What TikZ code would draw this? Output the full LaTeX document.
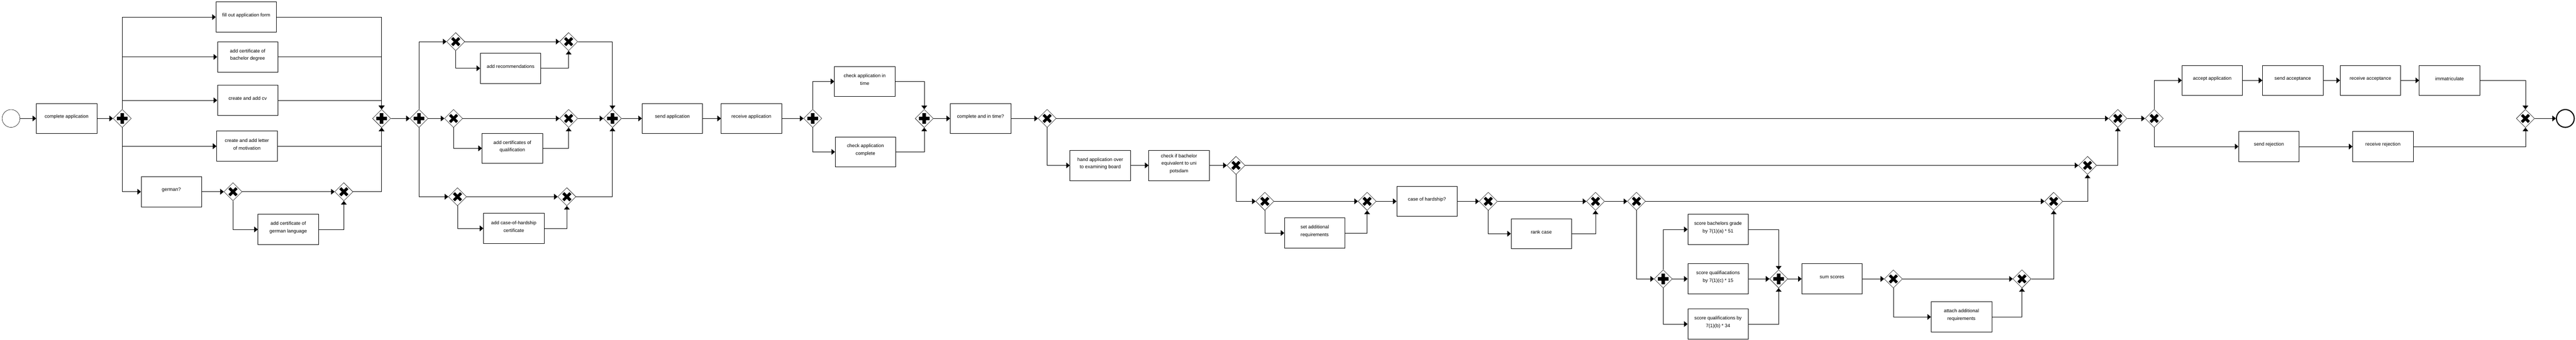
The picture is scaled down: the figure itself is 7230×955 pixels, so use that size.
\documentclass[tikz,border=0pt]{standalone}
\usepackage{fontspec}
\setmainfont{Liberation Sans}
\usepackage{tikz}
\usetikzlibrary{shapes.geometric, arrows.meta}

\begin{document}
\begin{tikzpicture}[x=1pt, y=-1pt,
        task/.style={
                rectangle,
                draw,
                line width=1pt,
                minimum width=170pt,
                minimum height=85pt,
                label={[tasktext]center:#1},
        },
        tasktext/.style={align=center, yshift=5pt, inner sep=0pt, font=\fontsize{13.5}{21}\selectfont},
        gateway/.style={diamond, draw, fill=white, line width=0.8pt, minimum width=51pt, minimum height=51pt, inner sep=0pt},
        xorgate/.style={gateway, path picture={
                \draw[black, line width=8pt] (path picture bounding box.center) +(-10pt,-10pt) -- +(10pt,10pt)
                        (path picture bounding box.center) +(-10pt,10pt) -- +(10pt,-10pt);}},
        andgate/.style={gateway, path picture={
                \fill[black] (path picture bounding box.center) +(-15pt,-5pt) rectangle +(15pt,5pt)
                        (path picture bounding box.center) +(-5pt,-15pt) rectangle +(5pt,15pt);}},
        startevent/.style={circle, draw, line width=0.8pt, minimum size=50pt, inner sep=0pt},
        endevent/.style={circle, draw, line width=3pt, minimum size=50pt, inner sep=0pt},
        flow/.style={line width=1pt, -{Triangle[length=10pt, width=16pt]}}]
            \useasboundingbox (0,0) rectangle (7230,955);

            \node[startevent] (start) at (31,333) {};
            \node[task={complete application}] (complete) at (187,333) {};
            \node[andgate] (fork1) at (343,333) {};
            \node[task={fill out application form}] (form) at (691,48) {};
            \node[task={add certificate of\\bachelor degree}] (bachelor) at (695,160) {};
            \node[task={create and add cv}] (cv) at (695,282) {};
            \node[task={create and add letter\\of motivation}] (letter) at (693,411) {};
            \node[task={german?}] (german) at (481,539) {};
            \node[xorgate] (germansplit) at (654,539) {};
            \node[task={add certificate of\\german language}] (language) at (809,645) {};
            \node[xorgate] (germanjoin) at (965,539) {};
            \node[andgate] (join1) at (1071,333) {};

            \node[andgate] (fork2) at (1176,333) {};
            \node[xorgate] (recsplit) at (1279,117) {};
            \node[task={add recommendations}] (recommend) at (1433,192) {};
            \node[xorgate] (recjoin) at (1596,117) {};
            \node[xorgate] (qualsplit) at (1273,333) {};
            \node[task={add certificates of\\qualification}] (qualify) at (1438,417) {};
            \node[xorgate] (qualjoin) at (1596,333) {};
            \node[xorgate] (hardsplit) at (1284,553) {};
            \node[task={add case-of-hardship\\certificate}] (hardship) at (1442,642) {};
            \node[xorgate] (hardjoin) at (1591,553) {};
            \node[andgate] (join2) at (1719,333) {};
            \node[task={send application}] (send) at (1887,333) {};
            \node[task={receive application}] (receive) at (2109,333) {};
            \node[andgate] (fork3) at (2281,333) {};
            \node[task={check application in\\time}] (intime) at (2427,229) {};
            \node[task={check application\\complete}] (iscomplete) at (2429,427) {};
            \node[andgate] (join3) at (2594,333) {};
            \node[task={complete and in time?}] (completetime) at (2752,333) {};
            \node[xorgate] (timesplit) at (2939,333) {};

            \node[task={hand application over\\to examining board}] (handover) at (3088,465) {};
            \node[task={check if bachelor\\equivalent to uni\\potsdam}] (equivalent) at (3309,465) {};
            \node[xorgate] (eqsplit) at (3469,465) {};
            \node[xorgate] (reqsplit) at (3550,566) {};
            \node[task={set additional\\requirements}] (setreq) at (3690,655) {};
            \node[xorgate] (reqjoin) at (3837,566) {};
            \node[task={case of hardship?}] (hardq) at (4005,566) {};
            \node[xorgate] (ranksplit) at (4177,566) {};
            \node[task={rank case}] (rank) at (4326,657) {};
            \node[xorgate] (rankjoin) at (4478,566) {};
            \node[xorgate] (scoresplit) at (4593,566) {};
            \node[andgate] (fork4) at (4668,784) {};
            \node[task={score bachelors grade\\by 7(1)(a) * 51}] (gradescore) at (4822,645) {};
            \node[task={score qualifiacations\\by 7(1)(c) * 15}] (cscore) at (4822,784) {};
            \node[task={score qualifications by\\7(1)(b) * 34}] (bscore) at (4822,911) {};
            \node[andgate] (join4) at (4992,784) {};
            \node[task={sum scores}] (sum) at (5142,784) {};
            \node[xorgate] (sumsplit) at (5314,784) {};
            \node[task={attach additional\\requirements}] (attach) at (5505,891) {};
            \node[xorgate] (sumjoin) at (5675,784) {};
            \node[xorgate] (scorejoin) at (5764,566) {};
            \node[xorgate] (eqjoin) at (5859,465) {};
            \node[xorgate] (timejoin) at (5944,333) {};
            \node[xorgate] (decide) at (6046,333) {};
            \node[task={accept application}] (accept) at (6209,226) {};
            \node[task={send acceptance}] (sendacc) at (6435,226) {};
            \node[task={receive acceptance}] (recacc) at (6653,226) {};
            \node[task={immatriculate}] (immat) at (6875,226) {};
            \node[task={send rejection}] (sendrej) at (6368,412) {};
            \node[task={receive rejection}] (recrej) at (6688,412) {};
            \node[xorgate] (endjoin) at (7088,333) {};
            \node[endevent] (end) at (7200,333) {};

            \draw[flow] (start) -- (complete);
            \draw[flow] (complete) -- (fork1);
            \draw[flow] (fork1.north) |- (form.west);
            \draw[flow] (fork1.north) |- (bachelor.west);
            \draw[flow] (fork1.north) |- (cv.west);
            \draw[flow] (fork1.south) |- (letter.west);
            \draw[flow] (fork1.south) |- (german.west);
            \draw[flow] (form.east) -| (join1.north);
            \draw[flow] (bachelor.east) -| (join1.north);
            \draw[flow] (cv.east) -| (join1.north);
            \draw[flow] (letter.east) -| (join1.south);
            \draw[flow] (german) -- (germansplit);
            \draw[flow] (germansplit) -- (germanjoin);
            \draw[flow] (germansplit.south) |- (language.west);
            \draw[flow] (language.east) -| (germanjoin.south);
            \draw[flow] (germanjoin.east) -| (join1.south);

            \draw[flow] (join1) -- (fork2);
            \draw[flow] (fork2.north) |- (recsplit.west);
            \draw[flow] (fork2) -- (qualsplit);
            \draw[flow] (fork2.south) |- (hardsplit.west);
            \draw[flow] (recsplit) -- (recjoin);
            \draw[flow] (recsplit.south) |- (recommend.west);
            \draw[flow] (recommend.east) -| (recjoin.south);
            \draw[flow] (qualsplit) -- (qualjoin);
            \draw[flow] (qualsplit.south) |- (qualify.west);
            \draw[flow] (qualify.east) -| (qualjoin.south);
            \draw[flow] (hardsplit) -- (hardjoin);
            \draw[flow] (hardsplit.south) |- (hardship.west);
            \draw[flow] (hardship.east) -| (hardjoin.south);
            \draw[flow] (recjoin.east) -| (join2.north);
            \draw[flow] (qualjoin) -- (join2);
            \draw[flow] (hardjoin.east) -| (join2.south);
            \draw[flow] (join2) -- (send);
            \draw[flow] (send) -- (receive);
            \draw[flow] (receive) -- (fork3);
            \draw[flow] (fork3.north) |- (intime.west);
            \draw[flow] (fork3.south) |- (iscomplete.west);
            \draw[flow] (intime.east) -| (join3.north);
            \draw[flow] (iscomplete.east) -| (join3.south);
            \draw[flow] (join3) -- (completetime);
            \draw[flow] (completetime) -- (timesplit);

            \draw[flow] (timesplit) -- (timejoin);
            \draw[flow] (timesplit.south) |- (handover.west);
            \draw[flow] (handover) -- (equivalent);
            \draw[flow] (equivalent) -- (eqsplit);
            \draw[flow] (eqsplit) -- (eqjoin);
            \draw[flow] (eqsplit.south) |- (reqsplit.west);
            \draw[flow] (reqsplit) -- (reqjoin);
            \draw[flow] (reqsplit.south) |- (setreq.west);
            \draw[flow] (setreq.east) -| (reqjoin.south);
            \draw[flow] (reqjoin) -- (hardq);
            \draw[flow] (hardq) -- (ranksplit);
            \draw[flow] (ranksplit) -- (rankjoin);
            \draw[flow] (ranksplit.south) |- (rank.west);
            \draw[flow] (rank.east) -| (rankjoin.south);
            \draw[flow] (rankjoin) -- (scoresplit);
            \draw[flow] (scoresplit) -- (scorejoin);
            \draw[flow] (scoresplit.south) |- (fork4.west);
            \draw[flow] (fork4.north) |- (gradescore.west);
            \draw[flow] (fork4) -- (cscore);
            \draw[flow] (fork4.south) |- (bscore.west);
            \draw[flow] (gradescore.east) -| (join4.north);
            \draw[flow] (cscore) -- (join4);
            \draw[flow] (bscore.east) -| (join4.south);
            \draw[flow] (join4) -- (sum);
            \draw[flow] (sum) -- (sumsplit);
            \draw[flow] (sumsplit) -- (sumjoin);
            \draw[flow] (sumsplit.south) |- (attach.west);
            \draw[flow] (attach.east) -| (sumjoin.south);
            \draw[flow] (sumjoin.east) -| (scorejoin.south);
            \draw[flow] (scorejoin.east) -| (eqjoin.south);
            \draw[flow] (eqjoin.east) -| (timejoin.south);
            \draw[flow] (timejoin) -- (decide);
            \draw[flow] (decide.north) |- (accept.west);
            \draw[flow] (decide.south) |- (sendrej.west);
            \draw[flow] (accept) -- (sendacc);
            \draw[flow] (sendacc) -- (recacc);
            \draw[flow] (recacc) -- (immat);
            \draw[flow] (immat.east) -| (endjoin.north);
            \draw[flow] (sendrej) -- (recrej);
            \draw[flow] (recrej.east) -| (endjoin.south);
            \draw[flow] (endjoin) -- (end);
        \end{tikzpicture}
\end{document}
